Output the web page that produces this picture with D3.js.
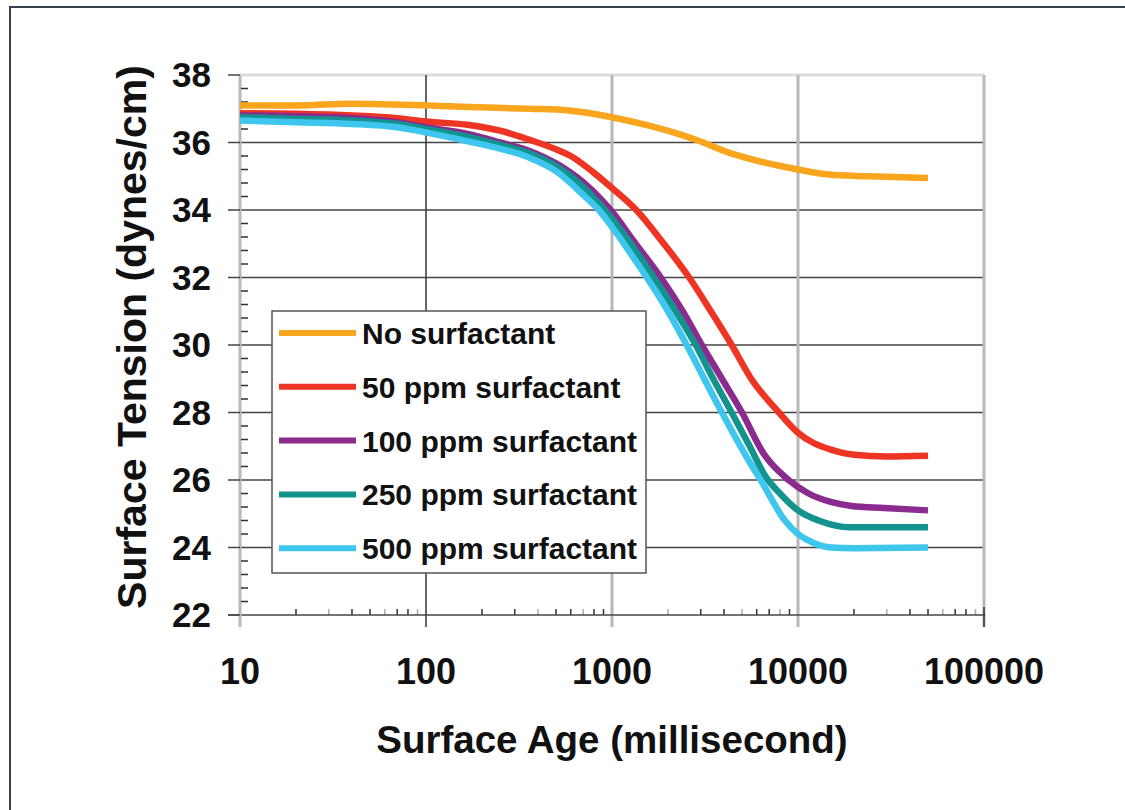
<!DOCTYPE html>
<html>
<head>
<meta charset="utf-8">
<script src="https://cdn.jsdelivr.net/npm/d3@7"></script>
<style>
  body { margin: 0; background: #fff; }
  text { font-family: "Liberation Sans", Arial, sans-serif; font-weight: bold; fill: #111; }
</style>
</head>
<body>
<svg id="chart" width="1125" height="810"></svg>
<script>
// Series: [surface age (ms), surface tension (dynes/cm)]
const noSurfactant = [[10,37.1],[21,37.1],[39,37.15],[100,37.1],[171,37.05],[359,37.0],[588,36.95],[1000,36.75],
  [1580,36.5],[2290,36.25],[2930,36.05],[4240,35.7],[6140,35.45],[10000,35.2],[14580,35.05],[23880,35.0],[50000,34.95]]
const ppm50 = [[10,36.87],[20,36.85],[40,36.8],[70,36.72],[100,36.62],[170,36.52],[250,36.35],[360,36.08],[500,35.8],[600,35.6],
  [800,35.1],[1000,34.65],[1350,34.0],[1900,33.0],[2600,32.0],[3400,31.0],[4400,30.0],[5600,29.0],[7900,28.0],
  [10000,27.4],[15000,26.9],[20000,26.75],[30000,26.7],[50000,26.72]]
const ppm100 = [[10,36.8],[20,36.78],[40,36.72],[70,36.6],[100,36.45],[170,36.25],[250,36.0],[360,35.75],[500,35.38],
  [700,34.82],[880,34.3],[1000,33.95],[1300,33.1],[1830,32.0],[2400,31.0],[3040,30.0],[3900,29.0],[5000,28.0],
  [6500,26.8],[8900,26.0],[11400,25.6],[15000,25.35],[19400,25.23],[29000,25.17],[50000,25.1]]
const ppm250 = [[10,36.75],[20,36.7],[40,36.65],[70,36.55],[100,36.4],[170,36.16],[250,35.93],[360,35.68],[500,35.3],
  [700,34.68],[850,34.2],[1000,33.75],[1300,32.9],[1680,32.0],[2200,31.0],[2820,30.0],[3500,29.0],[4400,28.0],
  [5500,27.0],[6700,26.1],[8000,25.6],[10000,25.1],[12900,24.8],[19000,24.6],[50000,24.6]]
const ppm500 = [[10,36.65],[20,36.6],[40,36.55],[70,36.45],[100,36.3],[170,36.03],[250,35.82],[360,35.55],[500,35.15],
  [700,34.45],[850,34.0],[1000,33.5],[1300,32.6],[1540,32.0],[2000,31.0],[2520,30.0],[3200,28.9],[3900,28.0],
  [5400,26.6],[6300,26.0],[8500,24.8],[10000,24.4],[12000,24.15],[15000,24.0],[20000,23.98],[50000,24.0]]

const seriesNames = ["No surfactant", "50 ppm surfactant", "100 ppm surfactant", "250 ppm surfactant", "500 ppm surfactant"]
const seriesData = [noSurfactant, ppm50, ppm100, ppm250, ppm500]
const seriesColors = ["#f9a51e", "#ee3524", "#8b2a8f", "#13938e", "#3ec6ee"]

const xTicks = [10, 100, 1000, 10000, 100000]
const yTicks = [22, 24, 26, 28, 30, 32, 34, 36, 38]

const svg = d3.select("#chart")

// Outer frame
svg.append("path")
  .attr("d", "M10,810 L10,7 L1125,7")
  .attr("fill", "none")
  .attr("stroke", "#34404c")
  .attr("stroke-width", 2)

const x = d3.scaleLog().domain([10, 100000]).range([240, 984])
const y = d3.scaleLinear().domain([22, 38]).range([615, 75])

const plot = svg.append("g")

// Horizontal grid lines
plot.selectAll("line.hgrid")
  .data(yTicks.filter(v => v > 22 && v < 38))
  .enter().append("line")
  .attr("x1", x(10)).attr("x2", x(100000))
  .attr("y1", d => y(d)).attr("y2", d => y(d))
  .attr("stroke", "#444").attr("stroke-width", 1.5)

// Top border of plot area
plot.append("line")
  .attr("x1", x(10)).attr("x2", x(100000)).attr("y1", y(38)).attr("y2", y(38))
  .attr("stroke", "#dcdcdc").attr("stroke-width", 3)

// Vertical grid lines (plus major ticks below the axis)
plot.selectAll("line.vgrid")
  .data(xTicks.slice(1))
  .enter().append("line")
  .attr("x1", d => x(d)).attr("x2", d => x(d))
  .attr("y1", y(38)).attr("y2", y(22) + 12)
  .attr("stroke", d => (d == 100 ? "#333" : "#b8b8b8"))
  .attr("stroke-width", d => (d == 100 ? 1.5 : 3))

// x minor ticks
const minors = []
for (let dec = 10; dec < 100000; dec *= 10)
  for (let k = 2; k <= 9; k++) minors.push(dec * k)
plot.selectAll("line.xminor")
  .data(minors)
  .enter().append("line")
  .attr("x1", d => x(d)).attr("x2", d => x(d))
  .attr("y1", y(22) - 6).attr("y2", y(22))
  .attr("stroke", (d, i) => (i % 3 == 1 ? "#aaa" : "#333"))
  .attr("stroke-width", 1.5)

// x axis line
plot.append("line")
  .attr("x1", 228).attr("x2", x(100000) + 1).attr("y1", y(22)).attr("y2", y(22))
  .attr("stroke", "#444").attr("stroke-width", 1.5)
plot.append("line")
  .attr("x1", x(100000)).attr("x2", x(100000)).attr("y1", y(22) - 8).attr("y2", y(22) + 12)
  .attr("stroke", "#333").attr("stroke-width", 1.5)

// y axis line
plot.append("line")
  .attr("x1", x(10)).attr("x2", x(10)).attr("y1", y(38)).attr("y2", y(22) + 12)
  .attr("stroke", "#b8b8b8").attr("stroke-width", 3)

// y major ticks (left of axis)
plot.selectAll("line.ymajor")
  .data(yTicks)
  .enter().append("line")
  .attr("x1", 228).attr("x2", x(10))
  .attr("y1", d => y(d)).attr("y2", d => y(d))
  .attr("stroke", "#444").attr("stroke-width", 1.5)

// y minor ticks (inside)
const yMinors = d3.range(22.4, 38, 0.4).filter(v => Math.abs(v / 2 - Math.round(v / 2)) > 0.01)
plot.selectAll("line.yminor")
  .data(yMinors)
  .enter().append("line")
  .attr("x1", x(10) + 1).attr("x2", x(10) + 8)
  .attr("y1", d => y(d)).attr("y2", d => y(d))
  .attr("stroke", "#333").attr("stroke-width", 1.5)

// Tick labels
svg.selectAll("text.ylab")
  .data(yTicks)
  .enter().append("text")
  .attr("x", 211).attr("y", d => y(d) + 12)
  .attr("text-anchor", "end")
  .attr("font-size", 35)
  .text(d => d)

svg.selectAll("text.xlab")
  .data(xTicks)
  .enter().append("text")
  .attr("x", d => x(d)).attr("y", 684)
  .attr("text-anchor", "middle")
  .attr("font-size", 36)
  .text(d => d)

// Axis titles
svg.append("text")
  .attr("x", 612).attr("y", 753)
  .attr("text-anchor", "middle")
  .attr("font-size", 38.5)
  .text("Surface Age (millisecond)")

svg.append("text")
  .attr("transform", "translate(146,337) rotate(-90)")
  .attr("text-anchor", "middle")
  .attr("font-size", 41)
  .text("Surface Tension (dynes/cm)")

// Curves
const line = d3.line()
  .curve(d3.curveMonotoneX)
  .x(d => x(d[0]))
  .y(d => y(d[1]))

svg.append("g").selectAll("path")
  .data(seriesData)
  .enter().append("path")
  .attr("d", line)
  .attr("fill", "none")
  .attr("stroke", (d, i) => seriesColors[i])
  .attr("stroke-width", 6.5)
  .attr("stroke-linejoin", "round")

// Legend
const legend = svg.append("g")
legend.append("rect")
  .attr("x", 272).attr("y", 311).attr("width", 374).attr("height", 262)
  .attr("fill", "#fff").attr("stroke", "#555").attr("stroke-width", 1.5)

const rows = legend.selectAll("g.row")
  .data(seriesNames)
  .enter().append("g")
  .attr("transform", (d, i) => `translate(0,${333 + i * 53.8})`)
rows.append("line")
  .attr("x1", 279).attr("x2", 356)
  .attr("stroke", (d, i) => seriesColors[i])
  .attr("stroke-width", 6)
rows.append("text")
  .attr("x", 362).attr("y", 11)
  .attr("font-size", 30)
  .text(d => d)
</script>
</body>
</html>
